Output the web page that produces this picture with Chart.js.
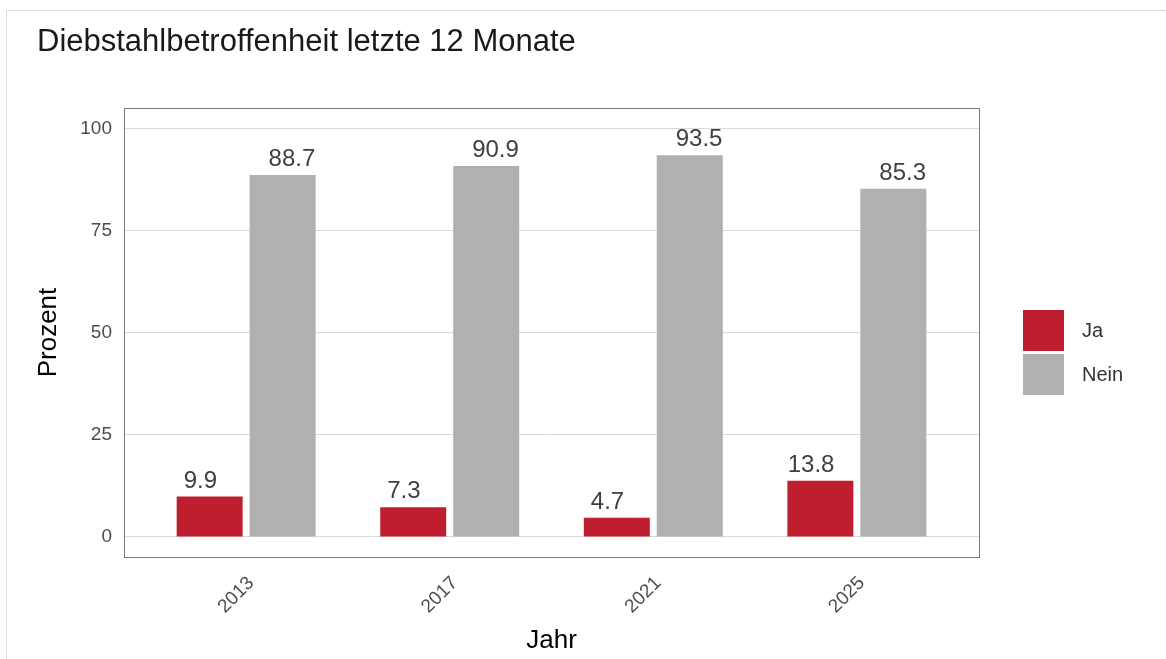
<!DOCTYPE html>
<html>
<head>
<meta charset="utf-8">
<script src="https://cdn.jsdelivr.net/npm/chart.js@4.4.1/dist/chart.umd.min.js"></script>
<style>
  html, body { margin: 0; padding: 0; background: #fff; overflow: hidden; }
  #frame { position: absolute; left: 6px; top: 10px; width: 1200px; height: 700px;
           border-top: 1px solid #dcdcdc; border-left: 1px solid #dcdcdc; }
  #line-chart { position: absolute; left: 0; top: 0; }
</style>
</head>
<body>
<div id="frame"></div>
<canvas id="line-chart" width="1166" height="659"></canvas>
<script>
// data
let years = ["2013", "2017", "2021", "2025"];
let ja = [9.9, 7.3, 4.7, 13.8];
let nein = [88.7, 90.9, 93.5, 85.3];
let yTicks = [0, 25, 50, 75, 100];
let seriesNames = ["Ja", "Nein"];
let seriesColors = ["#be1e2d", "#b0b0b0"];

const FONT = "'Liberation Sans', Arial, sans-serif";
const labelShift = 0.225; // text dodge is wider than the bar dodge

let toPoints = arr => arr.map((v, i) => ({x: i + 1, y: v}));

// value labels, panel frame and legend
let extras = {
    id: "extras",
    afterDatasetsDraw(chart){
        let ctx = chart.ctx;
        let xs = chart.scales.x, ys = chart.scales.y;
        ctx.save();
        ctx.font = "24px " + FONT;
        ctx.fillStyle = "#404040";
        ctx.textAlign = "center";
        ctx.textBaseline = "alphabetic";
        chart.data.datasets.forEach((ds, d) => {
            let shift = d == 0 ? -labelShift : labelShift;
            ds.data.forEach(p => {
                ctx.fillText(p.y.toFixed(1), xs.getPixelForValue(p.x + shift), ys.getPixelForValue(p.y) - 9);
            });
        });
        ctx.restore();
    },
    afterDraw(chart){
        let ctx = chart.ctx;
        let a = chart.chartArea;
        ctx.save();
        ctx.strokeStyle = "#7a7a7a";
        ctx.lineWidth = 1;
        ctx.strokeRect(Math.round(a.left) + 0.5, Math.round(a.top) + 0.5,
            Math.round(a.right - a.left), Math.round(a.bottom - a.top));

        // legend
        let lx = a.right + 44, ly = a.top + 202;
        ctx.font = "20px " + FONT;
        ctx.textBaseline = "middle";
        ctx.textAlign = "left";
        chart.data.datasets.forEach((ds, d) => {
            let top = ly + d * 44;
            ctx.fillStyle = ds.backgroundColor;
            ctx.fillRect(lx, top, 41, 41);
            ctx.fillStyle = "#333333";
            ctx.fillText(ds.label, lx + 59, top + 21);
        });
        ctx.restore();
    }
};

let config = {
    type: "bar",
    data: {
        datasets: [
        {
            label: seriesNames[0],
            backgroundColor: seriesColors[0],
            data: toPoints(ja),
            categoryPercentage: 0.717,
            barPercentage: 0.904
        },
        {
            label: seriesNames[1],
            backgroundColor: seriesColors[1],
            data: toPoints(nein),
            categoryPercentage: 0.717,
            barPercentage: 0.904
        }]
    },
    options: {
        responsive: false,
        animation: false,
        layout: { padding: { left: 37, right: 187, top: 0, bottom: 0 } },
        plugins: {
            legend: { display: false },
            tooltip: { enabled: false },
            title: {
                display: true,
                text: "Diebstahlbetroffenheit letzte 12 Monate",
                align: "start",
                color: "#1a1a1a",
                font: { family: FONT, size: 31, weight: "normal", lineHeight: 1.2 },
                padding: { top: 24, bottom: 46.8 }
            }
        },
        scales: {
            x: {
                type: "linear",
                min: 0.4,
                max: 4.6,
                offset: false,
                grid: { display: false, drawTicks: false },
                border: { display: false },
                afterBuildTicks: s => { s.ticks = years.map((y, i) => ({value: i + 1})); },
                afterFit: s => { s.height = 102; },
                ticks: {
                    callback: v => years[v - 1],
                    minRotation: 45,
                    maxRotation: 45,
                    padding: 15,
                    labelOffset: 5,
                    color: "#4d4d4d",
                    font: { family: FONT, size: 19 }
                },
                title: {
                    display: true,
                    text: "Jahr",
                    color: "#000",
                    font: { family: FONT, size: 26, lineHeight: 1 },
                    padding: { top: 0, bottom: 5 }
                }
            },
            y: {
                min: -4.9,
                max: 105.1,
                grid: { color: "#d9d9d9", lineWidth: 1, drawTicks: false },
                border: { display: false },
                afterBuildTicks: s => { s.ticks = yTicks.map(v => ({value: v})); },
                afterFit: s => { s.width = 87; },
                ticks: {
                    padding: 12,
                    color: "#4d4d4d",
                    font: { family: FONT, size: 19 }
                },
                title: {
                    display: true,
                    text: "Prozent",
                    color: "#000",
                    font: { family: FONT, size: 26, lineHeight: 1 },
                    padding: { top: -1, bottom: 0 }
                }
            }
        }
    },
    plugins: [extras]
};

let myChart = new Chart(document.querySelector("#line-chart"), config);
</script>
</body>
</html>
